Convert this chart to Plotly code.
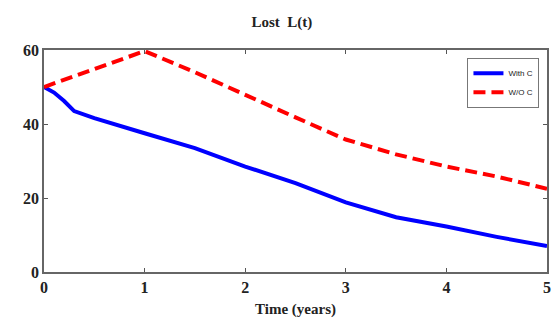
import plotly.graph_objects as go

t_with = [0, 0.1, 0.2, 0.3, 0.5, 0.75, 1.0, 1.5, 2.0, 2.5, 3.0, 3.5, 4.0, 4.5, 5.0]
l_with = [50, 48.5, 46.2, 43.5, 41.6, 39.5, 37.5, 33.5, 28.5, 24.0, 18.8, 14.8, 12.3, 9.5, 7.0]

t_without = [0, 0.5, 1.0, 1.5, 2.0, 2.5, 3.0, 3.5, 4.0, 4.5, 5.0]
l_without = [50, 54.8, 59.7, 54.0, 47.8, 41.8, 35.8, 31.8, 28.5, 25.8, 22.5]

x_ticks = [0, 1, 2, 3, 4, 5]
y_ticks = [0, 20, 40, 60]

fig = go.Figure()
fig.add_trace(go.Scatter(x=t_with, y=l_with, mode="lines", name="With C",
                         line=dict(color="#0000ff", width=4)))
fig.add_trace(go.Scatter(x=t_without, y=l_without, mode="lines", name="W/O C",
                         line=dict(color="#ff0000", width=4, dash="12px,6px")))

serif = "Liberation Serif, Times New Roman, serif"
tickfont = dict(family=serif, size=16, color="#222", weight="bold")
fig.update_layout(
    width=555, height=329,
    margin=dict(l=44, r=8, t=50, b=57),
    paper_bgcolor="white", plot_bgcolor="white",
    title=dict(text="<b>Lost  L(t)</b>", x=0.508, xanchor="center", y=0.935, yanchor="middle",
               font=dict(family=serif, size=15, color="#222")),
    showlegend=True,
    legend=dict(x=0.985, y=0.965, xanchor="right", yanchor="top",
                bgcolor="white", bordercolor="#777", borderwidth=1,
                font=dict(family="Liberation Sans, Arial, sans-serif", size=8, color="#222"),
                itemwidth=30, tracegroupgap=0),
    xaxis=dict(range=[0, 5], tickvals=x_ticks, ticks="inside", ticklen=4, tickcolor="#555",
               showline=True, linecolor="#666", linewidth=1.5, mirror="allticks",
               showgrid=False, zeroline=False, ticklabeloverflow="allow", automargin=False,
               tickfont=tickfont,
               title=dict(text="<b>Time (years)</b>", standoff=9,
                          font=dict(family=serif, size=15, color="#222"))),
    yaxis=dict(range=[0, 60], tickvals=y_ticks, ticks="inside", ticklen=4, tickcolor="#555",
               showline=True, linecolor="#666", linewidth=1.5, mirror="allticks",
               showgrid=False, zeroline=False, ticklabeloverflow="allow", automargin=False,
               tickfont=tickfont),
)
fig.write_html("out.html", config={"displayModeBar": False},
               post_script="document.body.style.margin='0';")
